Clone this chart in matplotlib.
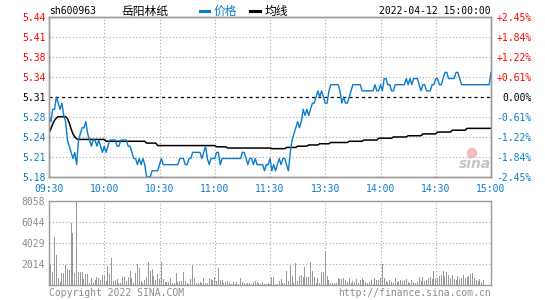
import matplotlib.pyplot as plt
from matplotlib.lines import Line2D
from matplotlib.patches import Ellipse
import numpy as np

# ── data (one value per minute, 09:30 .. 11:30 | 13:01 .. 15:00) ──────────
symbol     = "sh600963"
name       = "岳阳林纸"
stamp      = "2022-04-12 15:00:00"
prev_close = 5.31
limit_pct  = 2.45

price = [
    5.28, 5.27, 5.29, 5.29, 5.31, 5.30, 5.29, 5.30, 5.28, 5.27,
    5.24, 5.23, 5.22, 5.21, 5.22, 5.20, 5.24, 5.25, 5.26, 5.26,
    5.27, 5.25, 5.24, 5.23, 5.24, 5.24, 5.23, 5.24, 5.23, 5.22,
    5.23, 5.22, 5.23, 5.24, 5.24, 5.24, 5.24, 5.23, 5.23, 5.24,
    5.24, 5.24, 5.24, 5.23, 5.23, 5.22, 5.21, 5.21, 5.20, 5.21,
    5.20, 5.21, 5.20, 5.18, 5.18, 5.18, 5.19, 5.19, 5.19, 5.19,
    5.20, 5.21, 5.20, 5.20, 5.20, 5.20, 5.20, 5.20, 5.20, 5.20,
    5.20, 5.21, 5.21, 5.21, 5.20, 5.20, 5.21, 5.21, 5.22, 5.22,
    5.22, 5.22, 5.22, 5.21, 5.22, 5.23, 5.21, 5.20, 5.21, 5.21,
    5.21, 5.22, 5.22, 5.20, 5.21, 5.21, 5.21, 5.21, 5.21, 5.21,
    5.21, 5.21, 5.21, 5.21, 5.21, 5.22, 5.22, 5.21, 5.20, 5.21,
    5.21, 5.20, 5.21, 5.20, 5.20, 5.20, 5.20, 5.19, 5.20, 5.20,
    5.21, 5.19, 5.20, 5.19, 5.20, 5.21, 5.20, 5.21, 5.21, 5.20,
    5.19, 5.22, 5.24, 5.25, 5.26, 5.27, 5.26, 5.27, 5.29, 5.28,
    5.29, 5.28, 5.29, 5.30, 5.30, 5.31, 5.32, 5.31, 5.32, 5.31,
    5.30, 5.30, 5.32, 5.33, 5.33, 5.33, 5.33, 5.33, 5.32, 5.30,
    5.31, 5.30, 5.30, 5.31, 5.32, 5.33, 5.33, 5.33, 5.33, 5.33,
    5.32, 5.32, 5.32, 5.32, 5.32, 5.32, 5.32, 5.33, 5.32, 5.32,
    5.33, 5.32, 5.34, 5.34, 5.33, 5.33, 5.32, 5.32, 5.33, 5.33,
    5.33, 5.33, 5.33, 5.33, 5.34, 5.33, 5.34, 5.33, 5.34, 5.34,
    5.34, 5.33, 5.32, 5.33, 5.33, 5.32, 5.32, 5.32, 5.33, 5.33,
    5.34, 5.34, 5.33, 5.33, 5.34, 5.35, 5.35, 5.34, 5.34, 5.34,
    5.34, 5.35, 5.35, 5.34, 5.33, 5.33, 5.33, 5.33, 5.33, 5.33,
    5.33, 5.33, 5.33, 5.33, 5.33, 5.33, 5.33, 5.33, 5.33, 5.33,
    5.35,
]

avg_price = [
    5.252, 5.258, 5.266, 5.272, 5.276, 5.278, 5.278, 5.278, 5.278, 5.278,
    5.275, 5.268, 5.258, 5.250, 5.245, 5.242, 5.241, 5.241, 5.241, 5.241,
    5.241, 5.241, 5.241, 5.241, 5.241, 5.241, 5.241, 5.241, 5.241, 5.241,
    5.241, 5.238, 5.238, 5.238, 5.238, 5.238, 5.238, 5.238, 5.238, 5.238,
    5.238, 5.238, 5.238, 5.238, 5.238, 5.238, 5.238, 5.238, 5.238, 5.238,
    5.238, 5.238, 5.238, 5.235, 5.235, 5.235, 5.235, 5.235, 5.235, 5.231,
    5.231, 5.231, 5.231, 5.231, 5.231, 5.231, 5.231, 5.231, 5.231, 5.231,
    5.231, 5.231, 5.231, 5.231, 5.231, 5.231, 5.231, 5.231, 5.231, 5.231,
    5.231, 5.231, 5.231, 5.231, 5.231, 5.231, 5.231, 5.231, 5.231, 5.231,
    5.231, 5.229, 5.229, 5.229, 5.229, 5.229, 5.229, 5.227, 5.227, 5.227,
    5.227, 5.227, 5.227, 5.227, 5.227, 5.227, 5.227, 5.227, 5.227, 5.227,
    5.227, 5.227, 5.227, 5.227, 5.227, 5.227, 5.227, 5.227, 5.227, 5.227,
    5.227, 5.226, 5.226, 5.226, 5.226, 5.226, 5.226, 5.226, 5.226, 5.228,
    5.228, 5.228, 5.228, 5.228, 5.228, 5.230, 5.230, 5.230, 5.230, 5.230,
    5.230, 5.232, 5.232, 5.232, 5.232, 5.232, 5.232, 5.234, 5.234, 5.234,
    5.234, 5.234, 5.234, 5.236, 5.236, 5.236, 5.236, 5.236, 5.236, 5.236,
    5.236, 5.236, 5.236, 5.238, 5.238, 5.238, 5.238, 5.238, 5.238, 5.238,
    5.238, 5.240, 5.240, 5.240, 5.240, 5.240, 5.240, 5.240, 5.240, 5.243,
    5.243, 5.243, 5.243, 5.243, 5.243, 5.243, 5.243, 5.245, 5.245, 5.245,
    5.245, 5.245, 5.245, 5.245, 5.245, 5.247, 5.247, 5.247, 5.247, 5.247,
    5.247, 5.247, 5.247, 5.250, 5.250, 5.250, 5.250, 5.250, 5.250, 5.250,
    5.250, 5.253, 5.253, 5.253, 5.253, 5.253, 5.253, 5.253, 5.253, 5.256,
    5.256, 5.256, 5.256, 5.256, 5.256, 5.256, 5.256, 5.259, 5.259, 5.259,
    5.259, 5.259, 5.259, 5.259, 5.259, 5.259, 5.259, 5.259, 5.259, 5.259,
    5.259,
]

volume = [
    3360, 1984, 1216, 4608, 2880, 672, 256, 1152, 1152, 1920,
    1536, 1408, 5952, 4992, 1152, 8058, 1248, 1248, 1248, 576,
    1056, 1056, 160, 672, 256, 480, 736, 640, 480, 960,
    896, 384, 1824, 1088, 2592, 384, 480, 576, 192, 160,
    768, 768, 384, 768, 1344, 672, 160, 1152, 2016, 1600,
    384, 192, 480, 768, 2208, 1344, 1536, 864, 480, 1056,
    576, 2208, 576, 288, 288, 288, 672, 192, 192, 1152,
    288, 384, 384, 1248, 384, 192, 96, 576, 1920, 672,
    192, 192, 288, 192, 672, 192, 192, 672, 608, 480,
    768, 384, 1632, 480, 480, 192, 288, 384, 192, 96,
    288, 96, 288, 96, 672, 288, 192, 96, 192, 192,
    96, 288, 384, 288, 192, 96, 288, 96, 96, 192,
    96, 768, 768, 96, 96, 384, 576, 192, 192, 1344,
    384, 1920, 864, 192, 2112, 384, 864, 960, 768, 1728,
    768, 768, 2208, 1344, 768, 192, 672, 192, 1248, 1248,
    3264, 864, 480, 192, 192, 192, 192, 672, 576, 576,
    672, 480, 288, 672, 192, 384, 288, 576, 192, 480,
    672, 480, 288, 192, 288, 480, 96, 672, 480, 480,
    672, 2016, 672, 384, 288, 480, 288, 192, 672, 288,
    384, 480, 384, 480, 576, 288, 192, 480, 288, 192,
    288, 768, 384, 768, 384, 480, 672, 768, 576, 1344,
    576, 672, 864, 960, 1344, 864, 1248, 960, 672, 960,
    576, 480, 864, 576, 672, 960, 672, 768, 864, 1056,
    1152, 672, 480, 384, 576, 288, 480, 0, 0, 0,
    0,
]

time_ticks   = [0, 30, 60, 90, 120, 150, 180, 210, 240]
time_labels  = ["09:30", "10:00", "10:30", "11:00", "11:30", "13:30", "14:00", "14:30", "15:00"]
price_labels = ["5.18", "5.21", "5.24", "5.28", "5.31", "5.34", "5.38", "5.41", "5.44"]
pct_labels   = ["-2.45%", "-1.84%", "-1.22%", "-0.61%", "0.00%", "+0.61%", "+1.22%", "+1.84%", "+2.45%"]
vol_ticks    = [2014, 4029, 6044, 8058]
vol_labels   = ["2014", "4029", "6044", "8058"]
# ─────────────────────────────────────────────────────────────────────────

W, H = 545, 300
BLUE, RED = "#0a7ccc", "#ff0000"
GRID, FRAME, GREYTXT = "#a8a8a8", "#9a9a9a", "#8c8c8c"
MONO = ["DejaVu Sans Mono", "Noto Sans CJK SC"]
CJK = ["Noto Sans CJK SC", "DejaVu Sans"]
plt.rcParams["font.family"] = MONO

fig = plt.figure(figsize=(W / 100, H / 100), dpi=100)


def box(l, t, r, b):
    return [l / W, 1 - b / H, (r - l) / W, (b - t) / H]


def fx(x):
    return x / W


def fy(y):
    return 1 - y / H


ax = fig.add_axes(box(49, 17, 491, 177))
axv = fig.add_axes(box(49, 201, 491, 285))
minutes = np.arange(len(price))

# price panel
lo = prev_close * (1 - limit_pct / 100)
hi = prev_close * (1 + limit_pct / 100)
yt = np.linspace(lo, hi, 9)
ax.set_xlim(0, 240)
ax.set_ylim(lo, hi)
for i, y in enumerate(yt):
    if i not in (0, 4, 8):
        ax.axhline(y, color=GRID, lw=0.8, ls=(0, (1, 2)), zorder=1)
for x in time_ticks[1:-1]:
    ax.axvline(x, color=GRID, lw=0.8, ls=(0, (1, 2)), zorder=1)
ax.axhline(prev_close, color="black", lw=0.9, ls=(0, (2.5, 2.5)), zorder=2)

ax.plot(minutes, avg_price, color="black", lw=1.1, zorder=3)
ax.plot(minutes, price, color=BLUE, lw=1.0, zorder=4)

ax.set_yticks(yt)
ax.set_yticklabels(price_labels)
ax.set_xticks(time_ticks)
ax.set_xticklabels(time_labels)
ax.tick_params(axis="y", length=0, pad=2.5, labelsize=7)
ax.tick_params(axis="x", length=0, pad=5, labelsize=7, labelcolor=BLUE)
for i, t in enumerate(ax.get_yticklabels()):
    t.set_color(BLUE if i < 4 else ("black" if i == 4 else RED))

axr = ax.twinx()
axr.set_ylim(-limit_pct, limit_pct)
axr.set_yticks(np.linspace(-limit_pct, limit_pct, 9))
axr.set_yticklabels(pct_labels)
axr.tick_params(axis="y", length=0, pad=29.5, labelsize=7)
for i, t in enumerate(axr.get_yticklabels()):
    t.set_ha("right")
    t.set_color(BLUE if i < 4 else ("black" if i == 4 else RED))

for a in (ax, axr, axv):
    for s in a.spines.values():
        s.set_color(FRAME)
        s.set_linewidth(1.0)

# volume panel
axv.set_xlim(0, 240)
axv.set_ylim(0, vol_ticks[-1])
for v in vol_ticks[:-1]:
    axv.axhline(v, color=GRID, lw=0.8, ls=(0, (1, 2)), zorder=1)
for x in time_ticks[1:-1]:
    axv.axvline(x, color=GRID, lw=0.8, ls=(0, (1, 2)), zorder=1)
axv.bar(minutes, volume, width=0.55, color="#999999", linewidth=0, zorder=2)
axv.set_xticks([])
axv.set_yticks(vol_ticks)
axv.set_yticklabels(vol_labels)
axv.tick_params(axis="y", length=0, pad=3, labelsize=7, labelcolor=GREYTXT)

# header
fig.text(fx(49), fy(11.5), symbol, fontsize=7, va="center", ha="left")
fig.text(fx(121), fy(11.5), name, fontsize=8.5, va="center", ha="left", family=CJK)
fig.add_artist(Line2D([fx(200), fx(209)], [fy(10.5)] * 2, color=BLUE, lw=2.2,
                      transform=fig.transFigure))
fig.text(fx(214), fy(11.5), "价格", fontsize=8.5, va="center", ha="left",
         color=BLUE, family=CJK)
fig.add_artist(Line2D([fx(250), fx(260)], [fy(10.5)] * 2, color="black", lw=2.2,
                      transform=fig.transFigure))
fig.text(fx(265), fy(11.5), "均线", fontsize=8.5, va="center", ha="left", family=CJK)
fig.text(fx(491), fy(11.5), stamp, fontsize=7, va="center", ha="right")

# footer
fig.text(fx(49), fy(293), "Copyright 2022 SINA.COM", fontsize=7, va="center",
         ha="left", color=GREYTXT)
fig.text(fx(491), fy(293), "http://finance.sina.com.cn", fontsize=7, va="center",
         ha="right", color=GREYTXT)

# watermark
fig.add_artist(Ellipse((fx(472), fy(153)), 9 / W, 9 / H, color="#f2b0b0",
                       alpha=0.8, transform=fig.transFigure, zorder=5))
fig.text(fx(475), fy(164), "sina", fontsize=10, style="italic", weight="bold",
         color="#c4c4c4", ha="center", va="center", family="DejaVu Sans", zorder=6)

fig.savefig("out.png", dpi=100)
